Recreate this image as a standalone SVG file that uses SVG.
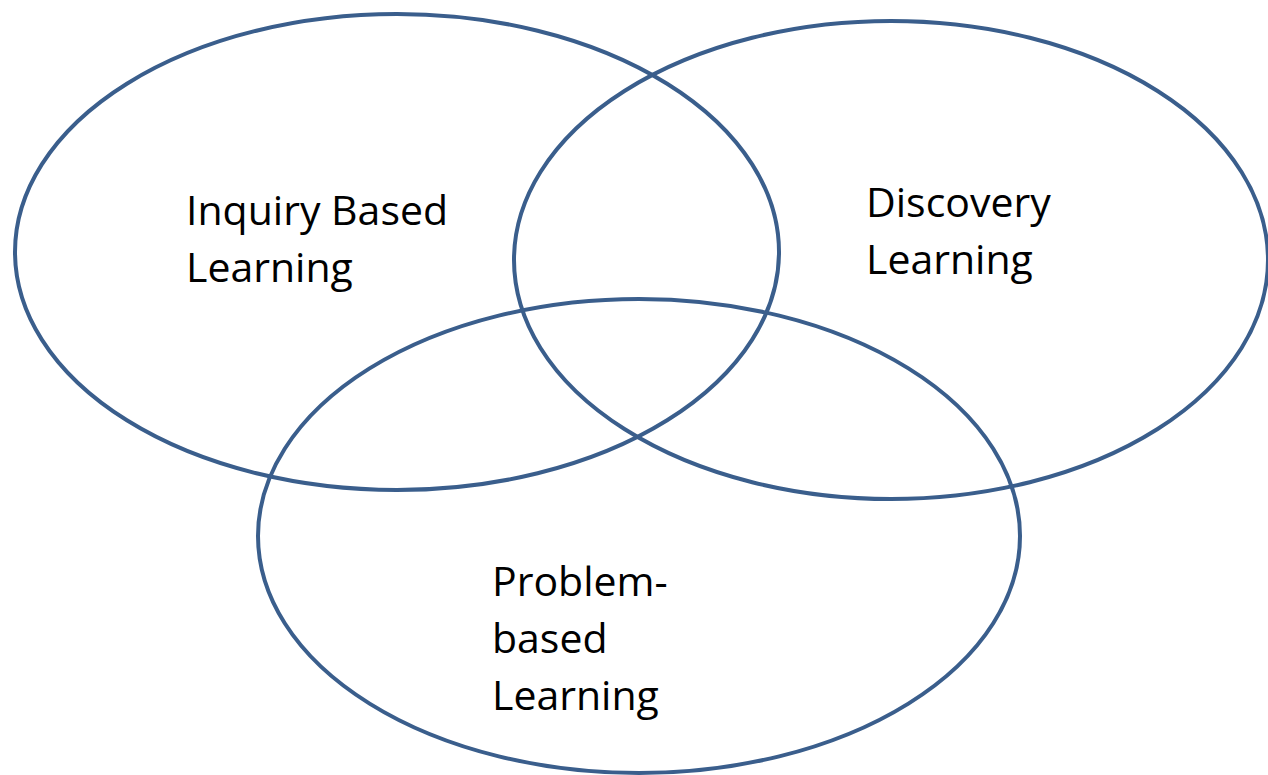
<svg xmlns="http://www.w3.org/2000/svg" width="1268" height="775" viewBox="0 0 1268 775">
  <style>
    .set { fill: none; stroke: #3a5e8c; stroke-width: 4; }
    .label { font-family: "Open Sans", "Liberation Sans", sans-serif; font-size: 41px; fill: #000; }
  </style>
  <rect width="1268" height="775" fill="#fff"/>
  <g id="inquiry-based-learning">
    <ellipse class="set" cx="397" cy="252" rx="382" ry="238"/>
    <text class="label" x="186" y="225">Inquiry Based</text>
    <text class="label" x="186" y="282">Learning</text>
  </g>
  <g id="discovery-learning">
    <ellipse class="set" cx="891" cy="260" rx="377" ry="239"/>
    <text class="label" x="866" y="217">Discovery</text>
    <text class="label" x="866" y="274">Learning</text>
  </g>
  <g id="problem-based-learning">
    <ellipse class="set" cx="639" cy="536" rx="381" ry="237"/>
    <text class="label" x="492" y="596">Problem-</text>
    <text class="label" x="492" y="653">based</text>
    <text class="label" x="492" y="710">Learning</text>
  </g>
  <g id="connectors"/>
</svg>
